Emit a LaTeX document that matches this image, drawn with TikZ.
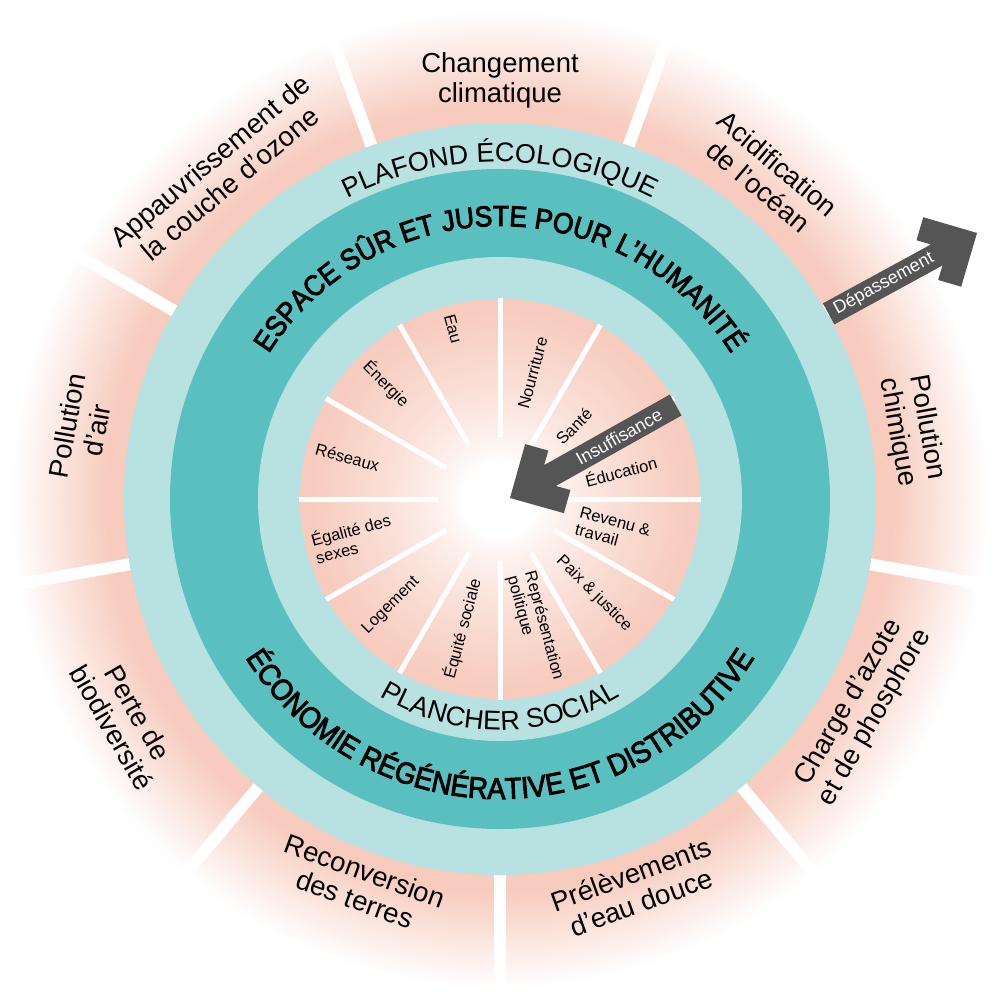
\documentclass[tikz,border=0pt]{standalone}
\usepackage{fontspec}
\setmainfont{Liberation Sans}
\newfontfamily\bandfont[FakeStretch=0.91,FakeBold=3]{Liberation Sans}
\usetikzlibrary{decorations.text}
\definecolor{pinkc}{RGB}{247,204,190}
\definecolor{ltteal}{RGB}{184,225,225}
\definecolor{dkteal}{RGB}{89,191,191}
\definecolor{arrowgray}{RGB}{85,85,85}
\begin{document}
\begin{tikzpicture}[x=1pt,y=1pt,
  outerlbl/.style={font=\fontsize{27.5}{30}\selectfont, align=center, text=black, inner sep=0},
  innerlbl/.style={font=\fontsize{16.5}{18}\selectfont, align=center, text=black, inner sep=0},
  innerleft/.style={innerlbl, align=left},
  arrowtxt/.style={font=\fontsize{18}{18}\selectfont, text=white, inner sep=0},
  gapline/.style={white, line width=12},
  seprline/.style={white, line width=5}]
\useasboundingbox (-500,-502) rectangle (500,499);
\fill[white] (-500,-502) rectangle (500,499);
% outer boundary segments: pink fading to white outwards
\foreach \i in {0,...,57}{
  \pgfmathsetmacro{\rr}{490-2*\i}
  \pgfmathtruncatemacro{\ff}{min(100,max(0,(490-\rr)/95*100))}
  \fill[pinkc!\ff!white] (0,0) circle (\rr);
}
\foreach \a in {30,70,...,350} \draw[gapline] (\a:360) -- (\a:500);
% overshoot arrow
\begin{scope}[shift={(477,266)}, rotate=208.6]
\fill[arrowgray] (0,0) -- (39.6,39.6) -- (56.6,22.6) -- (45.9,12) -- (169,12) -- (169,-12) -- (45.9,-12) -- (56.6,-22.6) -- (39.6,-39.6) -- cycle;
\node[arrowtxt, rotate=28.6] (depass) at (106,0) {Dépassement};
\end{scope}
% rings
\fill[ltteal] (0,0) circle (376);
\fill[dkteal] (0,0) circle (330);
\fill[ltteal] (0,0) circle (242);
% social foundation core: pink fading to white at the centre
\foreach \i in {0,...,80}{
  \pgfmathsetmacro{\rr}{200-2*\i}
  \pgfmathtruncatemacro{\ff}{100*(max(0,min(1,(\rr-40)/150)))^0.7}
  \fill[pinkc!\ff!white] (0,0) circle (\rr);
}
\foreach \a in {0,30,...,330} \draw[seprline] (\a:62) -- (\a:201);
% shortfall arrow
\begin{scope}[shift={(10,1)}, rotate=29.3]
\fill[arrowgray] (0,0) -- (39.6,39.6) -- (56.6,22.6) -- (45.9,12) -- (190,12) -- (190,-12) -- (45.9,-12) -- (56.6,-22.6) -- (39.6,-39.6) -- cycle;
\node[arrowtxt, rotate=29.3] (insuff) at (125,0) {Insuffisance};
\end{scope}
% curved labels
\path[decorate, decoration={text along path, text align=center, text={|\fontsize{27}{27}\selectfont|PLAFOND ÉCOLOGIQUE}}] (170:337) arc[start angle=170, end angle=10, radius=337];
\path[decorate, decoration={text along path, text align=center, text={|\bandfont\fontsize{29}{29}\selectfont|ESPACE SÛR ET JUSTE POUR L’HUMANITÉ}}] (175:273) arc[start angle=175, end angle=5, radius=273];
\path[decorate, decoration={text along path, text align=center, text={|\fontsize{27}{27}\selectfont|PLANCHER SOCIAL}}] (190:231) arc[start angle=190, end angle=350, radius=231];
\path[decorate, decoration={text along path, text align=center, text={|\bandfont\fontsize{30}{30}\selectfont|ÉCONOMIE RÉGÉNÉRATIVE ET DISTRIBUTIVE}}] (185:300) arc[start angle=185, end angle=355, radius=300];
% outer labels
\node[outerlbl] (cc) at (0,419) {Changement\\climatique};
\node[outerlbl, rotate=-40] (ao) at (268,324) {Acidification\\de l’océan};
\node[outerlbl, rotate=-80] (pc) at (412,69) {Pollution\\chimique};
\node[outerlbl, rotate=60] (ca) at (362,-211) {Charge d’azote\\et de phosphore};
\node[outerlbl, rotate=20] (pe) at (136,-389) {Prélèvements\\d’eau douce};
\node[outerlbl, rotate=-20] (rt) at (-140,-386) {Reconversion\\des terres};
\node[outerlbl, rotate=-60] (pb) at (-375,-221) {Perte de\\biodiversité};
\node[outerlbl, rotate=80] (pa) at (-418,71) {Pollution\\d’air};
\node[outerlbl, rotate=40] (ap) at (-280,327) {Appauvrissement de\\la couche d’ozone};
% inner labels
\node[innerlbl, rotate=-75] (eau) at (-47,170) {Eau};
\node[innerlbl, rotate=75] (nour) at (32.5,126) {Nourriture};
\node[innerlbl, rotate=45] (sante) at (74,72.5) {Santé};
\node[innerlbl, rotate=15] (educ) at (121,28) {Éducation};
\node[innerleft, rotate=-15] (rev) at (113,-31) {Revenu \&\\travail};
\node[innerlbl, rotate=-45] (paix) at (94,-94.5) {Paix \& justice};
\node[innerleft, rotate=-75] (repr) at (35,-129) {Représentation\\politique};
\node[innerlbl, rotate=75] (equi) at (-37.5,-129.5) {Équité sociale};
\node[innerlbl, rotate=45] (loge) at (-109,-106.5) {Logement};
\node[innerleft, rotate=15] (egal) at (-147,-39) {Égalité des\\sexes};
\node[innerlbl, rotate=-15] (res) at (-152.5,41.5) {Réseaux};
\node[innerlbl, rotate=-45] (ener) at (-114,115) {Énergie};
\end{tikzpicture}
\end{document}
